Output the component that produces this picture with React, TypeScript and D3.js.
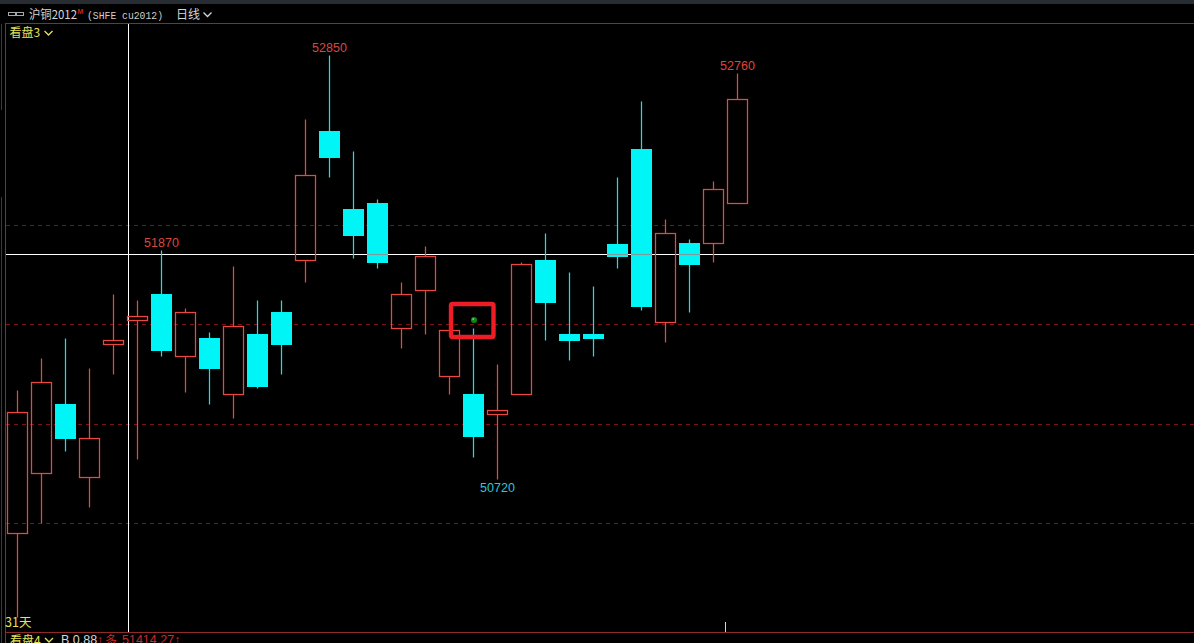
import React from "react";
import * as d3 from "d3";

const W = 1194;
const H = 643;

const opens = [50450,50750,51100,50730,51400,51520,51650,51340,51430,51150,51450,51560,51820,52470,52080,52110,51480,51670,51240,51150,51050,51150,51820,51450,51450,51900,52380,51510,51910,51910,52110];
const closes = [51060,51210,50930,50930,51420,51540,51370,51560,51280,51490,51190,51400,52250,52340,51950,51810,51650,51840,51470,50940,51070,51800,51610,51420,51430,51840,51590,51960,51800,52180,52630];
const highs = [51170,51330,51430,51280,51650,51620,51870,51580,51460,51790,51620,51620,52530,52850,52370,52130,51710,51890,51470,51480,51300,51810,51960,51760,51690,52240,52620,52030,51930,52220,52760];
const lows = [50030,50500,50860,50580,51250,50820,51340,51160,51100,51030,51180,51250,51710,52240,51830,51780,51380,51450,51150,50830,50720,51150,51420,51320,51340,51780,51570,51410,51560,51810,52110];

const gridPrices = [52000, 51500, 51000, 50500];
const crossIndex = 4.63;

const peakLabels = [
  { i: 6, price: 51870, color: "#d8483f" },
  { i: 13, price: 52850, color: "#d8483f" },
  { i: 30, price: 52760, color: "#e0443a" },
];
const troughLabels = [{ i: 20, price: 50720, color: "#2fc4dc" }];

const x = d3.scaleLinear().domain([0, 30]).range([17.5, 737.5]);
const y = d3.scaleLinear().domain([52000, 51000]).range([224.6, 423.6]);
const snap = (v: number) => Math.round(y(v)) + 0.5;

const RED = "#e8483f";
const CYAN = "#00f6f6";
const CYANW = "#22dcde";
const GRID = "#7e1212";
const FRAME = "#8e2a2c";
const YELLOW = "#e6e25a";
const CJK = "'Noto Sans CJK SC','Liberation Sans',sans-serif";
const NUM = "'Liberation Sans',Arial,sans-serif";
const SW = 1.25;

export default function App() {
  const crossY = 254.5;
  const crossX = Math.round(x(crossIndex) - 0.5) + 0.5;
  return (
    <svg
      width={W}
      height={H}
      viewBox={`0 0 ${W} ${H}`}
      style={{ position: "absolute", left: 0, top: 0, display: "block", background: "#000" }}
    >
      <rect x={0} y={0} width={W} height={H} fill="#000" />
      <rect x={0} y={0} width={W} height={4} fill="#282c33" />

      {/* frame */}
      <g shapeRendering="crispEdges">
        <line x1={1.5} x2={1.5} y1={24} y2={110} stroke="#3a3a3a" />
        <line x1={1.5} x2={1.5} y1={197} y2={H} stroke="#3a3a3a" />
        <line x1={5} x2={W} y1={23.5} y2={23.5} stroke={FRAME} />
        <line x1={5} x2={W} y1={632.5} y2={632.5} stroke={FRAME} />
        <line x1={5.5} x2={5.5} y1={23} y2={H} stroke={FRAME} />
      </g>

      {/* grid */}
      <g shapeRendering="crispEdges">
        {gridPrices.map((p) => (
          <line key={p} x1={6} x2={W} y1={snap(p)} y2={snap(p)} stroke={GRID} strokeDasharray="4 4" />
        ))}
      </g>

      {/* crosshair */}
      <g shapeRendering="crispEdges">
        <line x1={6} x2={W} y1={crossY} y2={crossY} stroke="#fff" />
        <line x1={crossX} x2={crossX} y1={24} y2={632} stroke="#fff" />
      </g>
      <line x1={725.5} x2={725.5} y1={622} y2={632} stroke={YELLOW} shapeRendering="crispEdges" />

      {/* candles */}
      <g>
        {opens.map((o, i) => {
          const c = closes[i];
          const up = c >= o;
          const cx = x(i);
          const top = snap(Math.max(o, c));
          const bot = snap(Math.min(o, c));
          const col = up ? RED : CYANW;
          return (
            <g key={i}>
              <line x1={cx} x2={cx} y1={snap(highs[i])} y2={top} stroke={col} strokeWidth={SW} />
              <line x1={cx} x2={cx} y1={bot} y2={snap(lows[i])} stroke={col} strokeWidth={SW} />
              {up ? (
                <rect x={cx - 10} y={top} width={20} height={bot - top} fill="none" stroke={RED} strokeWidth={SW} />
              ) : (
                <rect x={cx - 10.5} y={top - 0.5} width={21} height={bot - top + 1} fill={CYAN} shapeRendering="crispEdges" />
              )}
              {!up && top < crossY && bot > crossY && (
                <line x1={cx - 10.5} x2={cx + 10.5} y1={crossY} y2={crossY} stroke="#7d9a9a" shapeRendering="crispEdges" />
              )}
            </g>
          );
        })}
      </g>

      {/* annotation */}
      <rect x={451} y={304} width={42.5} height={33} rx={1.5} fill="none" stroke="#ee1c25" strokeWidth={4.4} />
      <circle cx={474} cy={320} r={3} fill="#0b8a12" />
      <circle cx={473.2} cy={319} r={0.9} fill="#7fd07f" />

      {/* extreme labels */}
      {peakLabels.map((d) => (
        <text key={d.i} x={x(d.i)} y={y(d.price) - 3} textAnchor="middle" fontFamily={NUM} fontSize={12.5} fill={d.color}>
          {d.price}
        </text>
      ))}
      {troughLabels.map((d) => (
        <text key={d.i} x={x(d.i)} y={y(d.price) + 12.5} textAnchor="middle" fontFamily={NUM} fontSize={12.5} fill={d.color}>
          {d.price}
        </text>
      ))}

      {/* header */}
      <g fill="none" stroke="#a8a8a8" strokeWidth={1}>
        <rect x={8.5} y={12.5} width={7} height={3} />
        <rect x={16.5} y={12.5} width={7} height={3} />
      </g>
      <text x={29} y={19} fontFamily={CJK} fontSize={12} fill="#d6d6d6" textLength={48} lengthAdjust="spacingAndGlyphs">沪铜2012</text>
      <text x={77.5} y={14} fontFamily={NUM} fontSize={7} fontWeight="bold" fill="#d02020">M</text>
      <text x={87} y={18.5} fontFamily="'Liberation Mono',monospace" fontSize={11} fill="#cfcfcf" textLength={76} lengthAdjust="spacingAndGlyphs">(SHFE cu2012)</text>
      <text x={176} y={19} fontFamily={CJK} fontSize={12} fill="#d6d6d6">日线</text>
      <path d="M203.5 12.5 L207.5 16.5 L211.5 12.5" fill="none" stroke="#d6d6d6" strokeWidth={1.3} />

      <text x={9.5} y={37} fontFamily={CJK} fontSize={12} fill={YELLOW}>看盘3</text>
      <path d="M44.5 31 L48.5 35 L52.5 31" fill="none" stroke={YELLOW} strokeWidth={1.3} />

      <text x={5} y={627} fontFamily={CJK} fontSize={12.5} fill={YELLOW}>31天</text>

      {/* clipped bottom row */}
      <text x={10} y={645} fontFamily={CJK} fontSize={12} fill={YELLOW}>看盘4</text>
      <path d="M45 638 L49 642 L53 638" fill="none" stroke={YELLOW} strokeWidth={1.3} />
      <text x={61} y={644} fontFamily={NUM} fontSize={12.5} fill="#d6d6d6">B 0.88</text>
      <text x={97} y={644} fontFamily={NUM} fontSize={12} fill="#cc2a2a">↑</text>
      <text x={105} y={645} fontFamily={CJK} fontSize={12} fill="#cc2a2a">多</text>
      <text x={122} y={644} fontFamily={NUM} fontSize={12.5} fill="#cc2a2a">51414.27↑</text>
    </svg>
  );
}
